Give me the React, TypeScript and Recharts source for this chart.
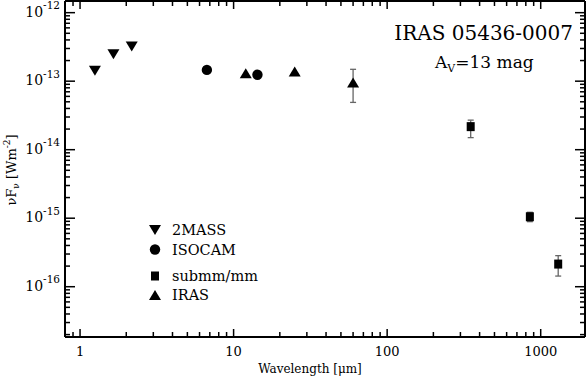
import React from 'react';
import { ScatterChart, Scatter, XAxis, YAxis, ErrorBar } from 'recharts';

const FONT = '"DejaVu Serif", "Liberation Serif", serif';

// 2MASS J, H, Ks
const twoMassWave = [1.25, 1.65, 2.17];
const twoMassFlux = [1.42e-13, 2.47e-13, 3.2e-13];
// ISOCAM
const isocamWave = [6.7, 14.3];
const isocamFlux = [1.46e-13, 1.24e-13];
// submm/mm
const submmWave = [350, 850, 1300];
const submmFlux = [2.17e-14, 1.05e-15, 2.14e-16];
const submmLow = [1.5e-14, 0.89e-15, 1.43e-16];
const submmHigh = [2.7e-14, 1.22e-15, 2.84e-16];
// IRAS 12, 25, 60
const irasWave = [12, 25, 60];
const irasFlux = [1.3e-13, 1.38e-13, 9.6e-14];
const irasLow = [null, null, 4.9e-14];
const irasHigh = [null, null, 1.49e-13];

const xDomain = [0.798, 1943];
const yDomain = [1.845e-17, 1.48e-12];

const legendItems = [
  { name: '2MASS', shape: 'down' },
  { name: 'ISOCAM', shape: 'circle' },
  { name: 'submm/mm', shape: 'square' },
  { name: 'IRAS', shape: 'up' },
];

function logTicks(lo: number, hi: number) {
  const out: number[] = [];
  for (let e = Math.floor(Math.log10(lo)); e <= Math.ceil(Math.log10(hi)); e++) {
    for (let m = 1; m < 10; m++) {
      const v = m * Math.pow(10, e);
      if (v >= lo && v <= hi) out.push(v);
    }
  }
  return out;
}
const xTicks = logTicks(xDomain[0], xDomain[1]);
const yTicks = logTicks(yDomain[0], yDomain[1]);
const isMajor = (v: number) => Math.abs(Math.log10(v) - Math.round(Math.log10(v))) < 1e-6;

const rows = (wave: number[], flux: number[], low?: (number | null)[], high?: (number | null)[]) =>
  wave.map((w, i) => ({
    x: w,
    y: flux[i],
    err: low && low[i] != null ? [flux[i] - (low[i] as number), (high![i] as number) - flux[i]] : undefined,
  }));

const twoMassData = rows(twoMassWave, twoMassFlux);
const isocamData = rows(isocamWave, isocamFlux);
const submmData = rows(submmWave, submmFlux, submmLow, submmHigh);
const irasData = rows(irasWave, irasFlux, irasLow, irasHigh);

function Marker({ kind, cx, cy }: { kind: string; cx: number; cy: number }) {
  if (kind === 'down') return <polygon points={`${cx - 6},${cy - 5} ${cx + 6},${cy - 5} ${cx},${cy + 5}`} fill="#000" />;
  if (kind === 'up') return <polygon points={`${cx - 6},${cy + 5} ${cx + 6},${cy + 5} ${cx},${cy - 5}`} fill="#000" />;
  if (kind === 'circle') return <circle cx={cx} cy={cy} r={5.2} fill="#000" />;
  return <rect x={cx - 4} y={cy - 4.5} width={8} height={9} fill="#000" />;
}
const shapeOf = (kind: string) => (p: any) => <Marker kind={kind} cx={p.cx} cy={p.cy} />;

const BottomTick = ({ x, y, payload }: any) => {
  const major = isMajor(payload.value);
  return (
    <g>
      <line x1={x} x2={x} y1={y} y2={y - (major ? 8 : 5)} stroke="#000" strokeWidth={1.5} />
      {major && (
        <text x={x} y={y + 19} textAnchor="middle" fontSize={13} fontFamily={FONT} fill="#000">
          {Math.round(payload.value)}
        </text>
      )}
    </g>
  );
};
const TopTick = ({ x, y, payload }: any) => {
  const major = isMajor(payload.value);
  return <line x1={x} x2={x} y1={y} y2={y + (major ? 8 : 5)} stroke="#000" strokeWidth={1.5} />;
};
const LeftTick = ({ x, y, payload }: any) => {
  const major = isMajor(payload.value);
  const exp = Math.round(Math.log10(payload.value));
  return (
    <g>
      <line x1={x} x2={x + (major ? 10 : 5)} y1={y} y2={y} stroke="#000" strokeWidth={1.5} />
      {major && (
        <text x={x - 5} y={y + 4} textAnchor="end" fontSize={14} fontFamily={FONT} fill="#000">
          <tspan>10</tspan>
          <tspan dy={-7.5} fontSize={10.5}>{String(exp)}</tspan>
        </text>
      )}
    </g>
  );
};
const RightTick = ({ x, y, payload }: any) => {
  const major = isMajor(payload.value);
  return <line x1={x} x2={x - (major ? 10 : 5)} y1={y} y2={y} stroke="#000" strokeWidth={1.5} />;
};

export default function App() {
  return (
    <div style={{ position: 'absolute', left: 0, top: 0, width: 588, height: 376, background: '#fff' }}>
      <ScatterChart width={588} height={376} margin={{ top: 0, right: 0, bottom: 0, left: 0 }}>
        <XAxis
          type="number" dataKey="x" scale="log" domain={xDomain} allowDataOverflow
          ticks={xTicks} interval={0} tick={<BottomTick />} tickSize={0} tickMargin={0}
          tickLine={false} axisLine={{ stroke: '#000', strokeWidth: 2 }} height={39}
        />
        <XAxis
          xAxisId="top" orientation="top" type="number" dataKey="x" scale="log" domain={xDomain} allowDataOverflow
          ticks={xTicks} interval={0} tick={<TopTick />} tickSize={0} tickMargin={0}
          tickLine={false} axisLine={{ stroke: '#000', strokeWidth: 2 }} height={1}
        />
        <YAxis
          type="number" dataKey="y" scale="log" domain={yDomain} allowDataOverflow
          ticks={yTicks} interval={0} tick={<LeftTick />} tickSize={0} tickMargin={0}
          tickLine={false} axisLine={{ stroke: '#000', strokeWidth: 2 }} width={65}
        />
        <YAxis
          yAxisId="right" orientation="right" type="number" dataKey="y" scale="log" domain={yDomain} allowDataOverflow
          ticks={yTicks} interval={0} tick={<RightTick />} tickSize={0} tickMargin={0}
          tickLine={false} axisLine={{ stroke: '#000', strokeWidth: 2 }} width={3}
        />
        <Scatter name="2MASS" data={twoMassData} shape={shapeOf('down')} isAnimationActive={false} />
        <Scatter name="ISOCAM" data={isocamData} shape={shapeOf('circle')} isAnimationActive={false} />
        <Scatter name="submm/mm" data={submmData} shape={shapeOf('square')} isAnimationActive={false}>
          <ErrorBar dataKey="err" direction="y" width={3} stroke="#666" strokeWidth={1.3} />
        </Scatter>
        <Scatter name="IRAS" data={irasData} shape={shapeOf('up')} isAnimationActive={false}>
          <ErrorBar dataKey="err" direction="y" width={3} stroke="#666" strokeWidth={1.3} />
        </Scatter>
      </ScatterChart>
      <svg width={588} height={376} style={{ position: 'absolute', left: 0, top: 0, pointerEvents: 'none' }}>
        <text x={573} y={40} textAnchor="end" fontSize={20} fontFamily={FONT} fill="#000">IRAS 05436-0007</text>
        <text x={435} y={68} fontSize={17} fontFamily={FONT} fill="#000">
          <tspan>A</tspan>
          <tspan dy={4} fontSize={11}>V</tspan>
          <tspan dy={-4}>=13 mag</tspan>
        </text>
        {legendItems.map((it, i) => {
          const cy = [230, 249.5, 276, 295][i];
          return (
            <g key={it.name}>
              <Marker kind={it.shape} cx={155} cy={cy} />
              <text x={172} y={cy + 5} fontSize={14.5} fontFamily={FONT} fill="#000">{it.name}</text>
            </g>
          );
        })}
        <text x={310} y={373} textAnchor="middle" fontSize={12} fontFamily={FONT} fill="#000">Wavelength [μm]</text>
        <text transform="translate(16,170) rotate(-90)" textAnchor="middle" fontSize={13} fontFamily={FONT} fill="#000">
          <tspan>νF</tspan>
          <tspan dy={3} fontSize={9}>ν</tspan>
          <tspan dy={-3}> [Wm</tspan>
          <tspan dy={-6} fontSize={9}>-2</tspan>
          <tspan dy={6}>]</tspan>
        </text>
      </svg>
    </div>
  );
}
